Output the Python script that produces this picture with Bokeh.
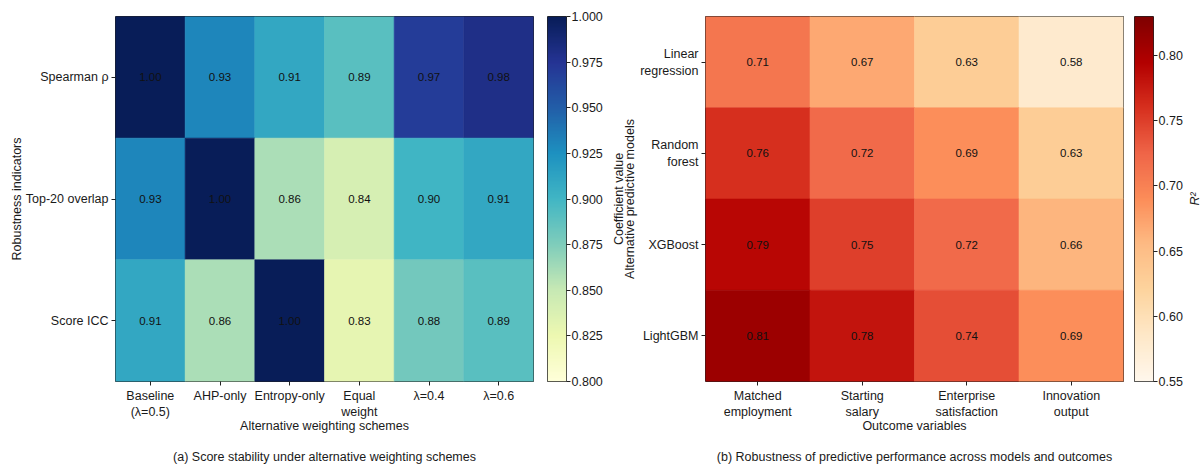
import numpy as np
from bokeh.plotting import figure
from bokeh.layouts import row
from bokeh.models import (ColumnDataSource, LinearColorMapper, FixedTicker,
                          PrintfTickFormatter, Range1d, Title)
from bokeh.core.properties import value
from bokeh.embed import file_html
from bokeh.resources import INLINE

# ---------------- data ----------------
schemes = ["Baseline\n(λ=0.5)", "AHP-only", "Entropy-only", "Equal\nweight", "λ=0.4", "λ=0.6"]
indicators = ["Spearman ρ", "Top-20 overlap", "Score ICC"]
spearman = [1.00, 0.93, 0.91, 0.89, 0.97, 0.98]
top20_overlap = [0.93, 1.00, 0.86, 0.84, 0.90, 0.91]
score_icc = [0.91, 0.86, 1.00, 0.83, 0.88, 0.89]

outcomes = ["Matched\nemployment", "Starting\nsalary", "Enterprise\nsatisfaction", "Innovation\noutput"]
models = ["Linear\nregression", "Random\nforest", "XGBoost", "LightGBM"]
linear_r2 = [0.71, 0.67, 0.63, 0.58]
forest_r2 = [0.76, 0.72, 0.69, 0.63]
xgb_r2 = [0.79, 0.75, 0.72, 0.66]
lgbm_r2 = [0.81, 0.78, 0.74, 0.69]

coef_ticks = [0.800, 0.825, 0.850, 0.875, 0.900, 0.925, 0.950, 0.975, 1.000]
r2_ticks = [0.55, 0.60, 0.65, 0.70, 0.75, 0.80]

YLGNBU = ["#ffffd9", "#edf8b1", "#c7e9b4", "#7fcdbb", "#41b6c4",
          "#1d91c0", "#225ea8", "#253494", "#081d58"]
ORRD = ["#fff7ec", "#fee8c8", "#fdd49e", "#fdbb84", "#fc8d59",
        "#ef6548", "#d7301f", "#b30000", "#7f0000"]

FONT = "Liberation Sans"
FS = "12.5px"
TXT = "#1a1a1a"
FRAME_H = 365
TOP = 16
BOTTOM = 85


def interp_palette(hexes, n=256):
    rgb = np.array([[int(h[i:i + 2], 16) for i in (1, 3, 5)] for h in hexes], float)
    pos = np.linspace(0, 1, len(hexes))
    t = np.linspace(0, 1, n)
    cols = np.stack([np.interp(t, pos, rgb[:, k]) for k in range(3)], axis=1)
    return ["#%02x%02x%02x" % tuple(int(round(c)) for c in cc) for cc in cols]


def style_axis(ax, standoff=3):
    ax.major_tick_out = 4
    ax.major_tick_in = 0
    ax.minor_tick_line_color = None
    ax.axis_line_color = None
    ax.major_tick_line_color = "#222222"
    ax.major_label_text_font = FONT
    ax.major_label_text_font_size = FS
    ax.major_label_text_color = TXT
    ax.major_label_standoff = standoff
    ax.axis_label_text_font = FONT
    ax.axis_label_text_font_size = FS
    ax.axis_label_text_font_style = "normal"
    ax.axis_label_text_color = TXT


def make_title(text, standoff, style="normal"):
    return Title(text=text, align="center", text_font=FONT, text_font_size=FS,
                 text_font_style=style, text_color=TXT, standoff=standoff)


def heatmap(xlabels, ylabels, rows, mapper, frame_w, left, right,
            xtitle, ytitle, ylab_standoff, caption):
    nx, ny = len(xlabels), len(ylabels)
    xs, ys, vals, txt = [], [], [], []
    for i, r in enumerate(rows):
        for j, v in enumerate(r):
            xs.append(j + 0.5)
            ys.append(ny - 1 - i + 0.5)
            vals.append(v)
            txt.append(f"{v:.2f}")
    src = ColumnDataSource(dict(x=xs, y=ys, v=vals, t=txt))
    p = figure(x_range=Range1d(0, nx), y_range=Range1d(0, ny),
               frame_width=frame_w, frame_height=FRAME_H,
               min_border_left=left, min_border_right=right,
               min_border_top=TOP, min_border_bottom=BOTTOM,
               toolbar_location=None, tools="", output_backend="svg")
    p.rect("x", "y", 1, 1, source=src,
           fill_color={"field": "v", "transform": mapper},
           line_color={"field": "v", "transform": mapper}, line_width=0.6)
    p.text("x", "y", text="t", source=src, text_align="center",
           text_baseline="middle", text_font=value(FONT),
           text_font_size="11.5px", text_color="#111111")
    p.grid.visible = False
    p.outline_line_color = "#222222"
    p.outline_line_width = 1
    style_axis(p.xaxis[0])
    style_axis(p.yaxis[0])
    p.xaxis.ticker = FixedTicker(ticks=[j + 0.5 for j in range(nx)])
    p.xaxis.major_label_overrides = {j + 0.5: lab for j, lab in enumerate(xlabels)}
    p.yaxis.ticker = FixedTicker(ticks=[ny - 1 - i + 0.5 for i in range(ny)])
    p.yaxis.major_label_overrides = {ny - 1 - i + 0.5: lab for i, lab in enumerate(ylabels)}
    p.xaxis.axis_label = xtitle
    p.xaxis.axis_label_standoff = -3
    p.yaxis.axis_label = ytitle
    p.yaxis.axis_label_standoff = ylab_standoff
    p.add_layout(make_title(caption, 22), "below")
    return p


def colorbar(mapper, lo, hi, ticks, fmt, left, right):
    p = figure(x_range=Range1d(0, 1), y_range=Range1d(lo, hi),
               frame_width=19, frame_height=FRAME_H,
               min_border_left=left, min_border_right=right,
               min_border_top=TOP, min_border_bottom=BOTTOM,
               x_axis_location=None, y_axis_location="right",
               toolbar_location=None, tools="", output_backend="svg")
    grad = np.linspace(lo, hi, 256).reshape(256, 1)
    p.image(image=[grad], x=0, y=lo, dw=1, dh=hi - lo, color_mapper=mapper)
    p.grid.visible = False
    p.outline_line_color = "#222222"
    p.outline_line_width = 1
    style_axis(p.yaxis[0], standoff=1)
    p.yaxis.ticker = FixedTicker(ticks=ticks)
    p.yaxis.formatter = PrintfTickFormatter(format=fmt)
    return p


coef_mapper = LinearColorMapper(palette=interp_palette(YLGNBU), low=0.80, high=1.00)
r2_mapper = LinearColorMapper(palette=interp_palette(ORRD), low=0.55, high=0.83)

pa = heatmap(schemes, indicators, [spearman, top20_overlap, score_icc], coef_mapper,
             418, 115, 7, "Alternative weighting schemes", "Robustness indicators", -1,
             "(a) Score stability under alternative weighting schemes")
ca = colorbar(coef_mapper, 0.80, 1.00, coef_ticks, "%.3f", 7, 37)
pb = heatmap(outcomes, models, [linear_r2, forest_r2, xgb_r2, lgbm_r2], r2_mapper,
             418, 100, 5, "Outcome variables", "Alternative predictive models", 0,
             "(b) Robustness of predictive performance across models and outcomes")
pb.add_layout(make_title("Coefficient value", -10), "left")
cb = colorbar(r2_mapper, 0.55, 0.83, r2_ticks, "%.2f", 6, 31)

# narrow holder for the R² colour-bar title (reads bottom-to-top like the reference)
rt = figure(x_range=Range1d(0, 1), y_range=Range1d(0, 1), frame_width=1, frame_height=FRAME_H,
            min_border_left=17, min_border_right=0, min_border_top=TOP, min_border_bottom=BOTTOM,
            x_axis_location=None, y_axis_location=None, toolbar_location=None, tools="",
            output_backend="svg", outline_line_color=None)
rt.grid.visible = False
rt.add_layout(make_title("R²", 1, "italic"), "left")

layout = row(pa, ca, pb, cb, rt)
open("out.html", "w").write(file_html(layout, INLINE))
